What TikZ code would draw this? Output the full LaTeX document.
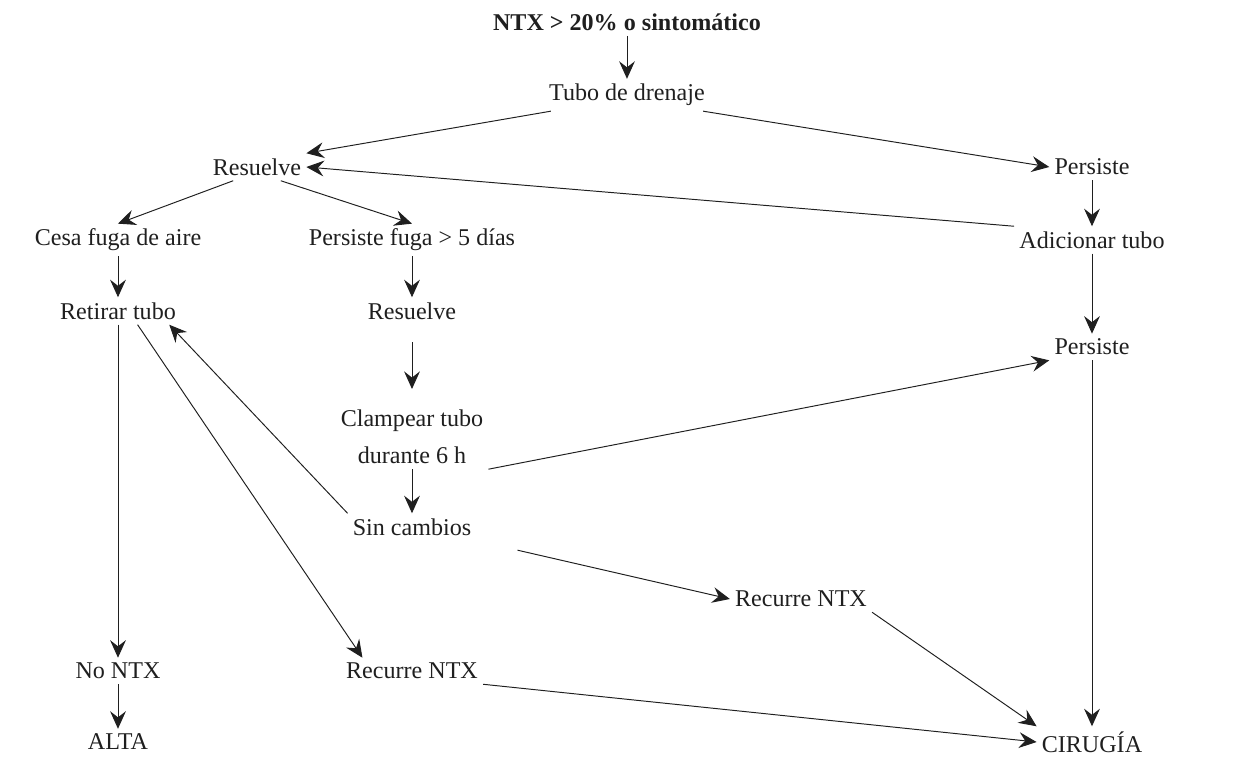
\documentclass[tikz,border=0pt]{standalone}
\usepackage{fontspec}
\setmainfont{Liberation Serif}
\usetikzlibrary{positioning,arrows.meta}
\tikzstyle{tnode}=[rectangle, inner sep=2.8pt, text=black!88, font=\fontsize{13.7}{16}\selectfont]
\tikzstyle{pline}=[-{Stealth[length=10pt,width=9pt,inset=3.5pt]}, line width=0.55pt, draw=black!88]

\begin{document}
\begin{tikzpicture}[node distance=0mm, on grid]
\useasboundingbox (-12.54,0.44) rectangle (12.42,-14.78);
\node (TOP) [tnode] at (0,0) {\textbf{NTX > 20\% o sintomático}};
\node (TUBO) [tnode, below=1.46cm of TOP] {Tubo de drenaje};
 \draw[pline] (TOP) -- (TUBO);
\node (RES1) [tnode, below left=1.44cm and 7.40cm of TUBO] {Resuelve};
 \draw[pline] (TUBO.-168) -- (RES1.north east);
\node (PERS1) [tnode, below right=1.44cm and 9.30cm of TUBO] {Persiste};
 \draw[pline] (TUBO.-12) -- (PERS1.west);
\node (ADIC) [tnode, below=1.46cm of PERS1] {Adicionar tubo};
 \draw[pline] (PERS1) -- (ADIC);
 \draw[pline] (ADIC.north west) -- (RES1.east);
\node (CESA) [tnode, below left=1.46cm and 2.78cm of RES1] {Cesa fuga de aire};
 \draw[pline] (RES1.-150) -- (CESA.north);
\node (PFUGA) [tnode, below right=1.46cm and 3.10cm of RES1] {Persiste fuga > 5 días};
 \draw[pline] (RES1.-30) -- (PFUGA.north);
\node (RETIRAR) [tnode, below=1.42cm of CESA] {Retirar tubo};
 \draw[pline] (CESA) -- (RETIRAR);
\node (RES2) [tnode, below=1.42cm of PFUGA] {Resuelve};
 \draw[pline] (PFUGA) -- (RES2);
\node (CLAMP) [tnode, align=center, below=2.52cm of RES2] {Clampear tubo\\[5pt]durante 6 h};
 \draw[pline, shorten <=10pt, shorten >=9pt] (RES2) -- (CLAMP);
\node (SINC) [tnode, below=1.80cm of CLAMP] {Sin cambios};
 \draw[pline] (CLAMP) -- (SINC);
\node (PERS2) [tnode, below=2.14cm of ADIC] {Persiste};
 \draw[pline] (ADIC) -- (PERS2);
 \draw[pline] (CLAMP.south east) -- (PERS2.south west);
 \draw[pline] (SINC.north west) -- (RETIRAR.-15);
\node (NONTX) [tnode, below=7.20cm of RETIRAR] {No NTX};
 \draw[pline] (RETIRAR) -- (NONTX);
\node (RECUR1) [tnode, below=2.88cm of SINC] {Recurre NTX};
 \draw[pline] (RETIRAR.-35) -- (RECUR1.165);
\node (RECUR2) [tnode, below right=1.44cm and 7.78cm of SINC] {Recurre NTX};
 \draw[pline, shorten <=24pt] (SINC.south east) -- (RECUR2.west);
\node (ALTA) [tnode, below=1.42cm of NONTX] {ALTA};
 \draw[pline] (NONTX) -- (ALTA);
\node (CIR) [tnode, below=7.90cm of PERS2] {CIRUGÍA};
 \draw[pline] (PERS2) -- (CIR);
 \draw[pline] (RECUR2.south east) -- (CIR.north west);
 \draw[pline] (RECUR1.south east) -- (CIR.west);
\end{tikzpicture}
\end{document}
